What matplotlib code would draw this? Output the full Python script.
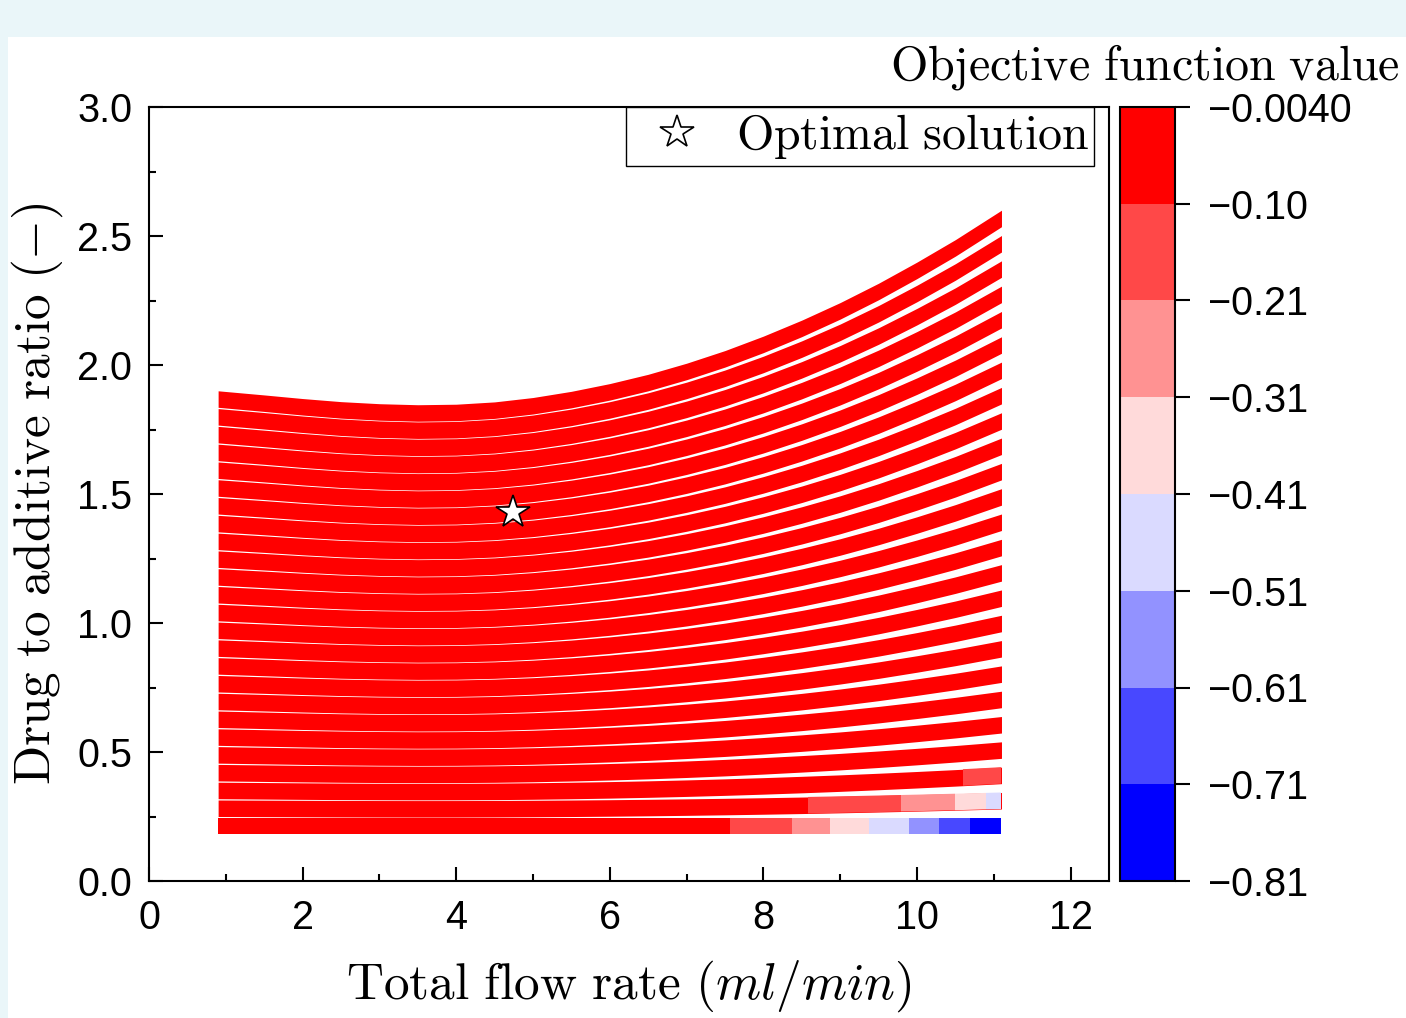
import numpy as np
import matplotlib
matplotlib.use('Agg')
import matplotlib.pyplot as plt
from matplotlib.colors import ListedColormap, BoundaryNorm
from matplotlib.cm import ScalarMappable
from matplotlib.patches import Rectangle
from matplotlib.ticker import MultipleLocator, FormatStrFormatter

plt.rcParams['font.family'] = ['Liberation Sans', 'DejaVu Sans']
plt.rcParams['mathtext.fontset'] = 'cm'

# Oberkante der Region an Stuetzstellen
flow_knots = [0.9, 1.5, 2.0, 2.5, 3.0, 3.5, 4.0, 4.5, 5.0, 5.5, 6.0,
              6.5, 7.0, 7.5, 8.0, 8.5, 9.0, 9.5, 10.0, 10.5, 11.1]
top_edge = [1.900, 1.884, 1.870, 1.858, 1.850, 1.846, 1.848, 1.857, 1.874, 1.898, 1.928,
            1.964, 2.007, 2.056, 2.112, 2.174, 2.242, 2.317, 2.399, 2.486, 2.600]
ratio_bottom = 0.181
band_height = 0.064
n_rows = 25
base_value = -0.05

# farbige Abschnitte in den untersten Reihen: Reihe, von, bis, Zielfunktion
seg_row = [0, 0, 0, 0, 0, 0, 0, 1, 1, 1, 1, 2]
seg_start = [7.56, 8.37, 8.87, 9.38, 9.89, 10.29, 10.69, 8.58, 9.79, 10.49, 10.90, 10.60]
seg_end = [8.37, 8.87, 9.38, 9.89, 10.29, 10.69, 11.1, 9.79, 10.49, 10.90, 11.1, 11.1]
seg_value = [-0.15, -0.26, -0.36, -0.46, -0.56, -0.66, -0.76,
             -0.15, -0.26, -0.36, -0.46, -0.15]

# Optimum
opt_flow = [4.74]
opt_ratio = [1.43]

levels = [-0.81, -0.709, -0.608, -0.508, -0.407, -0.306, -0.206, -0.105, -0.004]
level_labels = ['\u22120.81', '\u22120.71', '\u22120.61', '\u22120.51', '\u22120.41',
                '\u22120.31', '\u22120.21', '\u22120.10', '\u22120.0040']

cmap = ListedColormap(plt.cm.bwr(np.linspace(0, 1, 8)))
norm = BoundaryNorm(levels, cmap.N)

fig = plt.figure(figsize=(14.06, 10.18), dpi=100)
fig.patch.set_facecolor('#EAF6F9')
fig.add_artist(Rectangle((8 / 1406, 0), 1, 1 - 37 / 1018, transform=fig.transFigure,
                         facecolor='white', edgecolor='none', zorder=-1))

ax = fig.add_axes([149 / 1406, 1 - 881 / 1018, 960 / 1406, 774 / 1018])
cax = fig.add_axes([1120 / 1406, 1 - 881 / 1018, 55 / 1406, 774 / 1018])

# Baender zeichnen
top = np.array(top_edge)
step = (top - band_height - ratio_bottom) / (n_rows - 1)
for i in range(n_rows):
    lo = ratio_bottom + i * step
    band = ax.fill_between(flow_knots, lo, lo + band_height,
                           color=cmap(norm(base_value)), lw=0)
    for r, xa, xb, v in zip(seg_row, seg_start, seg_end, seg_value):
        if r != i:
            continue
        span = ax.axvspan(xa, xb, color=cmap(norm(v)), lw=0)
        span.set_clip_path(band.get_paths()[0], ax.transData)

ax.plot(opt_flow, opt_ratio, ls='none', marker='*', ms=25, mfc='white',
        mec='black', mew=1.2, label=r'$\mathrm{Optimal\ solution}$')

ax.set_xlim(0, 12.5)
ax.set_ylim(0, 3)
ax.xaxis.set_major_locator(MultipleLocator(2))
ax.xaxis.set_minor_locator(MultipleLocator(1))
ax.yaxis.set_major_locator(MultipleLocator(0.5))
ax.yaxis.set_minor_locator(MultipleLocator(0.25))
ax.yaxis.set_major_formatter(FormatStrFormatter('%.1f'))
ax.tick_params(which='both', direction='in', width=1.5, labelsize=28.5)
ax.tick_params(which='major', length=10)
ax.tick_params(which='minor', length=5)
ax.tick_params(axis='x', pad=13)
ax.tick_params(axis='y', pad=12)
for s in ax.spines.values():
    s.set_linewidth(1.5)

ax.set_xlabel(r'$\mathrm{Total\ flow\ rate}\ (ml/min)$', fontsize=37, va='center')
ax.xaxis.set_label_coords(0.5, -0.136)
ax.set_ylabel(r'$\mathrm{Drug\ to\ additive\ ratio}\ (-)$', fontsize=37, va='center')
ax.yaxis.set_label_coords(-0.116, 0.5)

leg = ax.legend(loc='upper right', bbox_to_anchor=(0.984, 1.0), borderaxespad=0,
                fontsize=34.5, fancybox=False, edgecolor='black', framealpha=1,
                borderpad=0.1, handlelength=1.95, handletextpad=0.25)
leg.get_frame().set_linewidth(1.0)

cb = fig.colorbar(ScalarMappable(norm=norm, cmap=cmap), cax=cax, ticks=levels)
cb.ax.set_yticklabels(level_labels)
cb.ax.tick_params(direction='out', length=10.5, width=1.5, labelsize=28.5, pad=13)
cb.outline.set_linewidth(1.5)

fig.text(1400 / 1406, 1 - 80 / 1018, r'$\mathrm{Objective\ function\ value}$',
         fontsize=34.5, ha='right', va='baseline')

fig.savefig('out.png', dpi=100)
